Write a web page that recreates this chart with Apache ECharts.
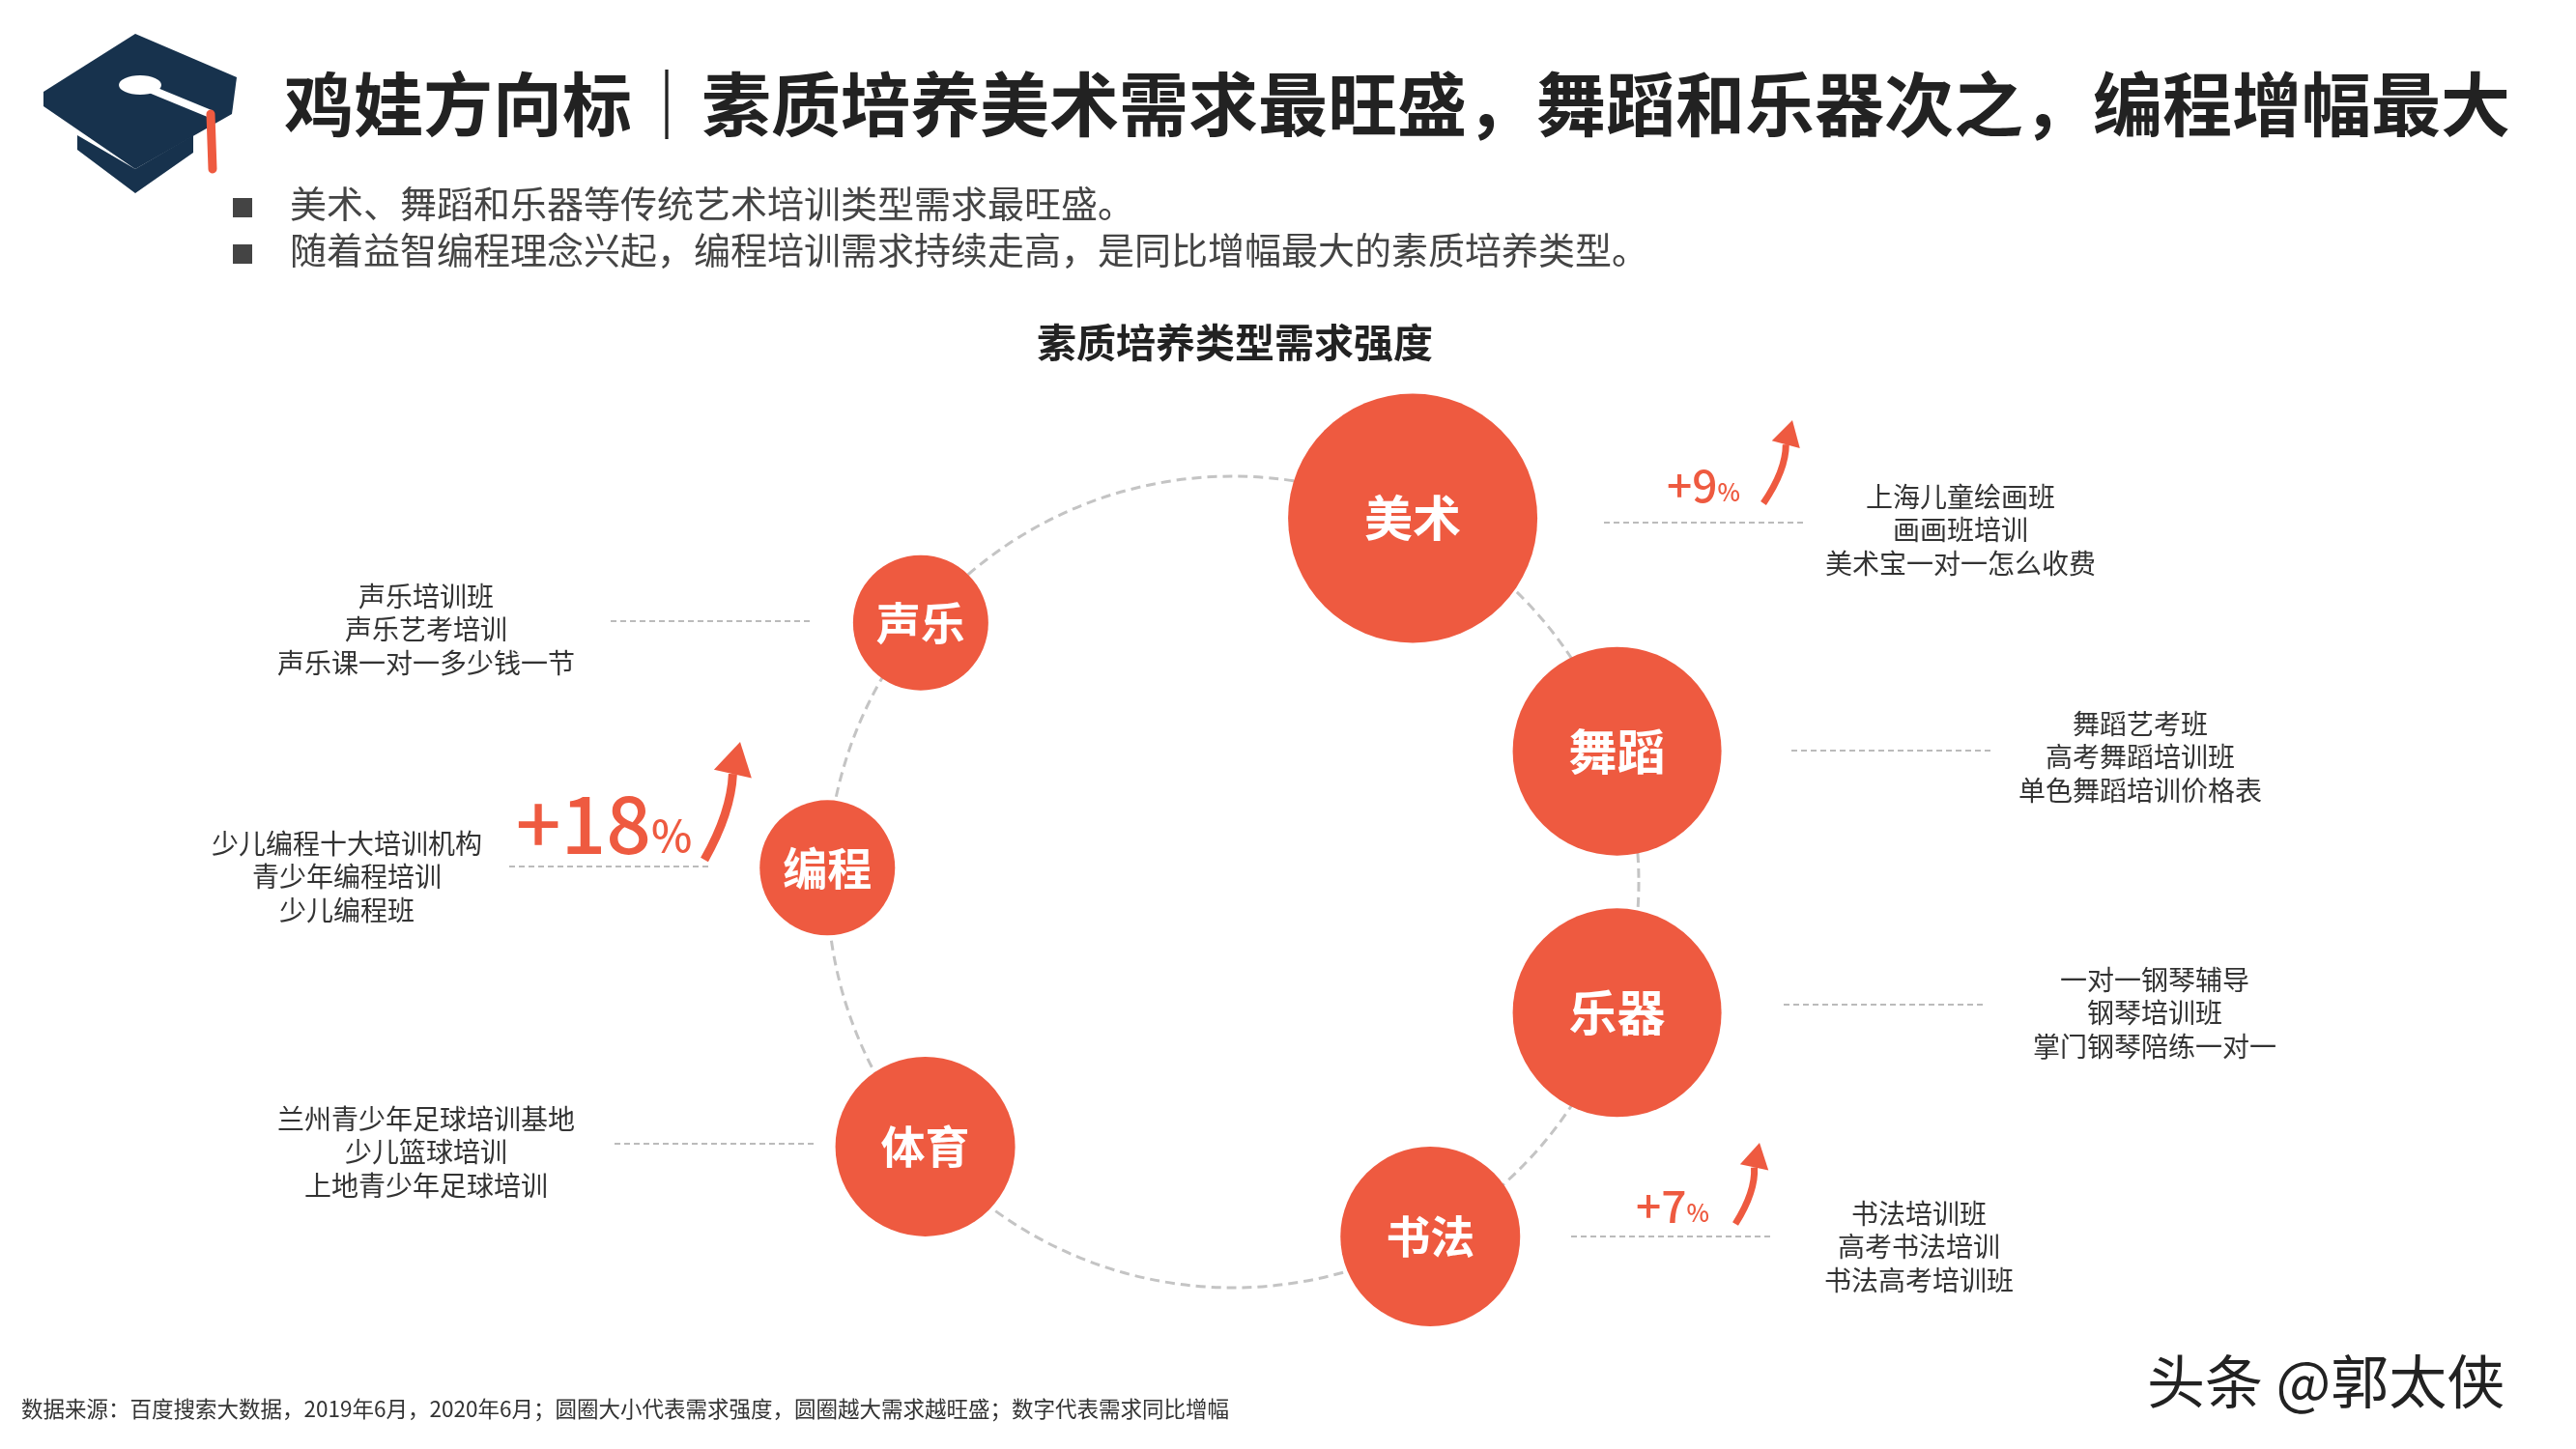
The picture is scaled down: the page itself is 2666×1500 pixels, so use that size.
<!DOCTYPE html>
<html><head><meta charset="utf-8">
<script src="https://cdn.jsdelivr.net/npm/echarts@6/dist/echarts.min.js"></script>
<style>html,body{margin:0;padding:0;background:#fff}#c{width:2666px;height:1500px}</style>
</head><body><div id="c"></div>
<script>
const categories = ['美术','舞蹈','乐器','书法','体育','编程','声乐'];
const angles = [63.7, 18.8, -18.8, -60.9, -139.3, 178, 140.3];      // position on ring (deg)
const strength = [258, 216, 216, 186, 186, 140, 140];               // demand intensity (circle size)
const growth = {'美术':'+9','书法':'+7','编程':'+18'};
const keywords = {
  '美术':['上海儿童绘画班','画画班培训','美术宝一对一怎么收费'],
  '舞蹈':['舞蹈艺考班','高考舞蹈培训班','单色舞蹈培训价格表'],
  '乐器':['一对一钢琴辅导','钢琴培训班','掌门钢琴陪练一对一'],
  '书法':['书法培训班','高考书法培训','书法高考培训班'],
  '体育':['兰州青少年足球培训基地','少儿篮球培训','上地青少年足球培训'],
  '编程':['少儿编程十大培训机构','青少年编程培训','少儿编程班'],
  '声乐':['声乐培训班','声乐艺考培训','声乐课一对一多少钱一节']
};
const FONT = '"Noto Sans CJK SC","Noto Sans",sans-serif';
const RED = '#EE5A40';
const chart = echarts.init(document.getElementById('c'));
const g = [];
// logo
g.push({type:'polygon',shape:{points:[[45,95],[140,35],[245,80],[240,118],[140,175],[45,110]]},style:{fill:'#17324d'}});
g.push({type:'polygon',shape:{points:[[80,155],[140,200],[200,158],[200,140],[140,175],[80,140]]},style:{fill:'#17324d'}});
g.push({type:'ellipse',shape:{cx:145,cy:88,rx:22,ry:10},style:{fill:'#fff'}});
g.push({type:'polyline',shape:{points:[[150,90],[218,118]]},style:{stroke:'#fff',lineWidth:8}});
g.push({type:'polyline',shape:{points:[[218,118],[220,175]]},style:{stroke:RED,lineWidth:9,lineCap:'round'}});
// title
g.push({type:'text',left:294,top:72,style:{text:'鸡娃方向标｜素质培养美术需求最旺盛，舞蹈和乐器次之，编程增幅最大',font:'bold 72px '+FONT,fill:'#222'}});
g.push({type:'rect',shape:{x:241,y:205,width:20,height:20},style:{fill:'#444'}});
g.push({type:'rect',shape:{x:241,y:253,width:20,height:20},style:{fill:'#444'}});
g.push({type:'text',left:300,top:192,style:{text:'美术、舞蹈和乐器等传统艺术培训类型需求最旺盛。',font:'38px '+FONT,fill:'#444'}});
g.push({type:'text',left:300,top:240,style:{text:'随着益智编程理念兴起，编程培训需求持续走高，是同比增幅最大的素质培养类型。',font:'38px '+FONT,fill:'#444'}});
g.push({type:'text',x:1278,y:354,style:{text:'素质培养类型需求强度',font:'bold 41px '+FONT,fill:'#222',align:'center',verticalAlign:'middle'}});
g.push({type:'text',left:22,top:1447,style:{text:'数据来源：百度搜索大数据，2019年6月，2020年6月；圆圈大小代表需求强度，圆圈越大需求越旺盛；数字代表需求同比增幅',font:'22.5px '+FONT,fill:'#333'}});
g.push({type:'text',left:2222,top:1400,style:{text:'头条 @郭太侠',font:'60px '+FONT,fill:'#222'}});
// annotations
const ann = {
  '美术':{line:[1660,1866,541],tx:2029,ty:514},
  '舞蹈':{line:[1854,2064,777],tx:2215,ty:749},
  '乐器':{line:[1846,2052,1040],tx:2230,ty:1014},
  '书法':{line:[1626,1832,1280],tx:1986,ty:1256},
  '体育':{line:[636,842,1184],tx:441,ty:1158},
  '编程':{line:[527,735,897],tx:359,ty:873},
  '声乐':{line:[632,842,643],tx:441,ty:617}
};
const gpos = {'美术':{x:1763,y:503,s:46,a:[1832,521,1855,435]},'书法':{x:1731,y:1249,s:46,a:[1803,1267,1821,1183]},'编程':{x:625,y:853,s:82,a:[738,890,766,768]}};
categories.forEach(c=>{
  const a = ann[c];
  g.push({type:'line',shape:{x1:a.line[0],y1:a.line[2],x2:a.line[1],y2:a.line[2]},style:{stroke:'#bbb',lineWidth:2,lineDash:[6,4]}});
  keywords[c].forEach((t,i)=>g.push({type:'text',x:a.tx,y:a.ty+i*34.5,style:{text:t,font:'28px '+FONT,fill:'#333',align:'center',verticalAlign:'middle'}}));
  if (growth[c]) {
    const p = gpos[c];
    g.push({type:'text',x:p.x,y:p.y,style:{text:'{n|'+growth[c]+'}{p|%}',align:'center',verticalAlign:'middle',
      rich:{n:{font:'500 '+p.s+'px '+FONT,fill:RED},p:{font:'500 '+Math.round(p.s*0.55)+'px '+FONT,fill:RED,padding:[p.s*0.3,0,0,0]}}}});
    const [x0,y0,x1,y1] = p.a, w = p.s>60?9:7, hw = p.s>60?20:15, hl = p.s>60?34:26;
    const dx=x1-x0, dy=y1-y0, L=Math.hypot(dx,dy), ux=dx/L, uy=dy/L;
    const bx=x1-ux*hl, by=y1-uy*hl;
    g.push({type:'bezierCurve',shape:{x1:x0-w,y1:y0,x2:bx,y2:by,cpx1:x0+dx*0.45+6,cpy1:y0+dy*0.4}, style:{stroke:RED,lineWidth:w,fill:null}});
    g.push({type:'polygon',shape:{points:[[x1,y1],[bx-uy*hw,by+ux*hw],[bx+uy*hw,by-ux*hw]]},style:{fill:RED}});
  }
});
chart.setOption({
  animation:false,
  polar:{center:[1276,913],radius:420},
  angleAxis:{type:'value',min:0,max:360,startAngle:0,clockwise:false,
    axisLine:{lineStyle:{color:'#c4c4c4',width:3,type:[10,6]}},axisTick:{show:false},axisLabel:{show:false},splitLine:{show:false}},
  radiusAxis:{type:'value',min:0,max:1,show:false,axisLine:{show:false},splitLine:{show:false}},
  series:[{type:'scatter',coordinateSystem:'polar',z:5,
    data:categories.map((c,i)=>({name:c,value:[1,(angles[i]+360)%360],symbolSize:strength[i],
      label:{fontSize: strength[i]>200 ? 50 : 46}})),
    itemStyle:{color:RED,opacity:1},
    label:{show:true,position:'inside',formatter:p=>p.name,color:'#fff',fontFamily:FONT,fontWeight:'bold',
      fontSize:46}
  }],
  graphic:g
});
</script></body></html>
